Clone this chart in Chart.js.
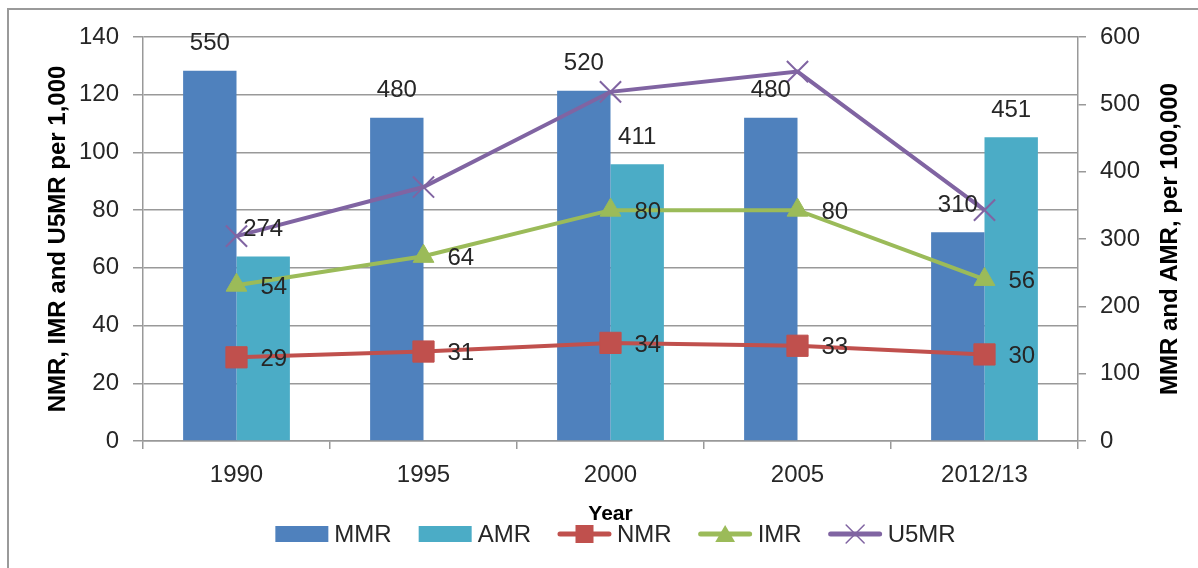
<!DOCTYPE html>
<html>
<head>
<meta charset="utf-8">
<script src="https://cdn.jsdelivr.net/npm/chart.js@4.4.1/dist/chart.umd.min.js"></script>
<style>
  html, body { margin: 0; padding: 0; background: #fff; }
  #wrap { position: relative; width: 1198px; height: 568px; overflow: hidden; }
  #frame { position: absolute; left: 7px; top: 8px; width: 1250px; height: 640px;
           border: 2px solid #9a9a9a; box-sizing: border-box; }
  #chart { position: absolute; left: 0; top: 0; }
</style>
</head>
<body>
<div id="wrap">
  <div id="frame"></div>
  <canvas id="chart" width="1198" height="568"></canvas>
</div>
<script>
// values
const years = ['1990', '1995', '2000', '2005', '2012/13'];
const mmr  = [550, 480, 520, 480, 310];   // right axis, per 100,000
const amr  = [274, null, 411, null, 451]; // right axis, per 100,000
const nmr  = [29, 31, 34, 33, 30];        // left axis, per 1,000
const imr  = [54, 64, 80, 80, 56];
const u5mr = [71, 88, 121, 128, 80];

const FONT = '"Liberation Sans", Arial, sans-serif';
const TXT = '#262626';
const GRID = '#999999';
const rightTitle = 'MMR and AMR, per 100,000';

// data labels, legend and the right axis title (read bottom-up like the left one)
const labelsPlugin = {
  id: 'labels',
  afterDatasetsDraw(chart) {
    const ctx = chart.ctx;
    ctx.save();
    ctx.font = '24px ' + FONT;
    ctx.fillStyle = TXT;
    chart.data.datasets.forEach((ds, i) => {
      if (!ds.showLabels) return;
      const meta = chart.getDatasetMeta(i);
      meta.data.forEach((el, j) => {
        const v = ds.data[j];
        if (v == null) return;
        if (ds.type === 'bar') {
          ctx.textAlign = 'center';
          ctx.textBaseline = 'middle';
          ctx.fillText(String(v), el.x, el.y - 27);
        } else {
          ctx.textAlign = 'left';
          ctx.textBaseline = 'middle';
          ctx.fillText(String(v), el.x + 24, el.y + 2);
        }
      });
    });
    ctx.restore();
  },
  afterDraw(chart) {
    const ctx = chart.ctx;
    const area = chart.chartArea;
    ctx.save();
    // right axis title
    ctx.save();
    ctx.translate(1170, (area.top + area.bottom) / 2);
    ctx.rotate(-Math.PI / 2);
    ctx.font = 'bold 24px ' + FONT;
    ctx.fillStyle = '#000';
    ctx.textAlign = 'center';
    ctx.textBaseline = 'middle';
    ctx.fillText(rightTitle, 0, 0);
    ctx.restore();

    ctx.font = '24px ' + FONT;
    const markW = 53, gapTxt = 6, gapItem = 27;
    const items = chart.data.datasets.slice().sort((a, b) => a.legendIndex - b.legendIndex);
    let total = 0;
    items.forEach((ds, k) => {
      total += markW + gapTxt + ctx.measureText(ds.label).width;
      if (k < items.length - 1) total += gapItem;
    });
    let x = (area.left + area.right) / 2 - total / 2 + 5;
    const y = 534;
    items.forEach(ds => {
      const cx = x + markW / 2;
      if (ds.type === 'bar') {
        ctx.fillStyle = ds.backgroundColor;
        ctx.fillRect(x, y - 8, markW, 16);
      } else {
        ctx.strokeStyle = ds.borderColor;
        ctx.lineWidth = 5;
        ctx.lineCap = 'round';
        ctx.beginPath();
        ctx.moveTo(x + 2, y);
        ctx.lineTo(x + markW - 2, y);
        ctx.stroke();
        ctx.fillStyle = ds.pointBackgroundColor;
        ctx.strokeStyle = ds.pointBorderColor;
        ctx.beginPath();
        if (ds.pointStyle === 'rect') {
          const s = 9;
          ctx.fillRect(cx - s, y - s, 2 * s, 2 * s);
        } else if (ds.pointStyle === 'triangle') {
          const r = 9;
          ctx.moveTo(cx, y - r);
          ctx.lineTo(cx + r * 1.1, y + r * 0.9);
          ctx.lineTo(cx - r * 1.1, y + r * 0.9);
          ctx.closePath();
          ctx.fill();
        } else {
          const r = 9;
          ctx.moveTo(cx - r, y - r); ctx.lineTo(cx + r, y + r);
          ctx.moveTo(cx + r, y - r); ctx.lineTo(cx - r, y + r);
          ctx.lineWidth = 1.5;
          ctx.stroke();
        }
      }
      x += markW + gapTxt;
      ctx.fillStyle = TXT;
      ctx.textAlign = 'left';
      ctx.textBaseline = 'middle';
      ctx.fillText(ds.label, x, y + 1);
      x += ctx.measureText(ds.label).width + gapItem;
    });
    ctx.restore();
  }
};

const lineDs = (label, data, color, style, radius, legendIndex, showLabels) => ({
  type: 'line', label, data, yAxisID: 'yL', order: 0, legendIndex, showLabels,
  borderColor: color, backgroundColor: color, borderWidth: 4,
  pointStyle: style, pointRadius: radius, pointHoverRadius: radius,
  pointBackgroundColor: color, pointBorderColor: color,
  pointBorderWidth: style === 'crossRot' ? 2 : 1,
  tension: 0
});

new Chart(document.getElementById('chart'), {
  type: 'bar',
  data: {
    labels: years,
    datasets: [
      lineDs('U5MR', u5mr, '#8064A2', 'crossRot', 15, 4, false),
      lineDs('IMR', imr, '#9BBB59', 'triangle', 12, 3, true),
      lineDs('NMR', nmr, '#C0504D', 'rect', 15, 2, true),
      { type: 'bar', label: 'MMR', data: mmr, yAxisID: 'yR', order: 1, legendIndex: 0, showLabels: true,
        backgroundColor: '#4F81BD', categoryPercentage: 0.571, barPercentage: 1 },
      { type: 'bar', label: 'AMR', data: amr, yAxisID: 'yR', order: 1, legendIndex: 1, showLabels: true,
        backgroundColor: '#4BACC6', categoryPercentage: 0.571, barPercentage: 1 }
    ]
  },
  options: {
    responsive: false,
    animation: false,
    devicePixelRatio: 1,
    layout: { padding: { top: 37, bottom: 38, left: 0, right: 0 } },
    plugins: { legend: { display: false }, tooltip: { enabled: false } },
    scales: {
      x: {
        grid: { offset: true, drawOnChartArea: false, drawTicks: true, tickLength: 8, color: GRID, lineWidth: 1.5 },
        border: { color: GRID, width: 1.5 },
        ticks: { color: TXT, font: { family: FONT, size: 24 }, padding: 12 },
        title: { display: true, text: 'Year', color: '#000', font: { family: FONT, size: 21, weight: 'bold' }, padding: { top: 0, bottom: 3 } },
        afterFit(s) { s.height = 89; }
      },
      yL: {
        position: 'left', min: 0, max: 140,
        ticks: { stepSize: 20, color: TXT, font: { family: FONT, size: 24 }, padding: 14 },
        grid: { color: GRID, lineWidth: 1.5, tickLength: 10 },
        border: { color: GRID, width: 1.5 },
        title: { display: true, text: 'NMR, IMR and U5MR per 1,000', color: '#000', font: { family: FONT, size: 24, weight: 'bold' }, padding: { top: 44, bottom: 0 } },
        afterFit(s) { s.width = 143; }
      },
      yR: {
        position: 'right', min: 0, max: 600,
        ticks: { stepSize: 100, color: TXT, font: { family: FONT, size: 24 }, padding: 14 },
        grid: { drawOnChartArea: false, color: GRID, lineWidth: 1.5, tickLength: 8 },
        border: { color: GRID, width: 1.5 },
        afterFit(s) { s.width = 120; }
      }
    }
  },
  plugins: [labelsPlugin]
});
</script>
</body>
</html>
